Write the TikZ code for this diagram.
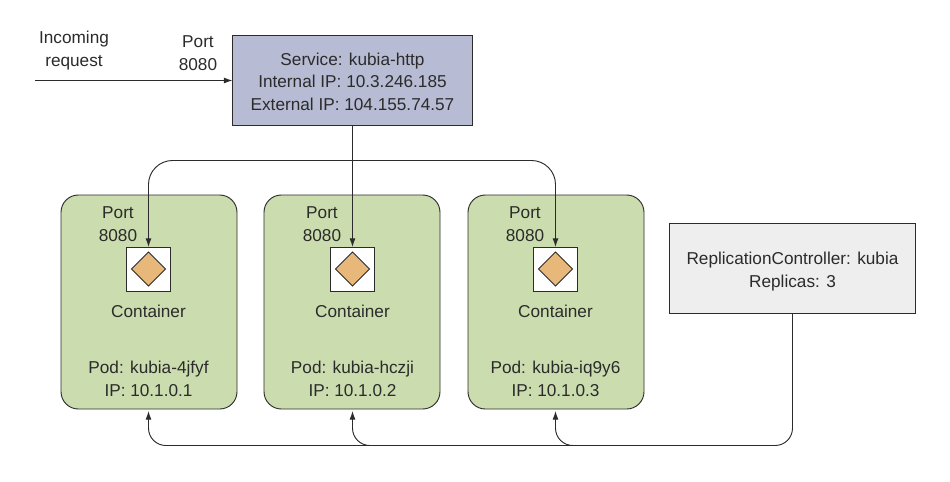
\documentclass[tikz,border=0pt]{standalone}
\usepackage{fontspec}
\setmainfont{Liberation Sans}
\usetikzlibrary{arrows.meta,shapes.geometric}
\definecolor{ink}{HTML}{2B2B2B}
\definecolor{svcfill}{HTML}{B7BCD4}
\definecolor{podfill}{HTML}{CBDDAE}
\definecolor{rcfill}{HTML}{EEEEEE}
\definecolor{diafill}{HTML}{E8B87B}
\newcommand{\boxlines}[2]{\vbox{\kern#1\hbox{\parbox{176pt}{\centering #2}}}}
\tikzset{
  txt/.style={inner sep=0pt,align=center,text=ink,font=\fontsize{12.9}{16.9}\selectfont},
  svcbox/.style={draw=ink,line width=0.65pt,fill=svcfill,minimum width=180pt,minimum height=67.5pt,inner sep=0pt,outer sep=0pt,text=ink,font=\fontsize{12.9}{16.9}\selectfont},
  rcbox/.style={svcbox,fill=rcfill,minimum width=184.5pt,minimum height=67.5pt},
  podbox/.style={draw=ink,line width=0.7pt,fill=podfill,rounded corners=13pt,minimum width=132pt,minimum height=160.5pt,inner sep=0pt,outer sep=0pt},
  ctrbox/.style={draw=ink,line width=0.65pt,fill=white,minimum width=33pt,minimum height=33pt,inner sep=0pt,outer sep=0pt},
  dia/.style={diamond,draw=ink,line width=0.65pt,fill=diafill,minimum width=25.5pt,minimum height=25.5pt,inner sep=0pt,outer sep=0pt,aspect=1},
  conn/.style={draw=ink,line width=0.7pt},
  tip/.style={-{Latex[length=6.5pt,width=4.5pt]}},
}
\begin{document}
\begin{tikzpicture}[x=0.75pt,y=-0.75pt]
\path[use as bounding box] (0,0) rectangle (950,482);
% boxes
\node[svcbox] (svc) at (352.5,80) {\boxlines{2.6pt}{Service: kubia-http\\Internal IP: 10.3.246.185\\External IP: 104.155.74.57}};
\node[rcbox] (rc) at (792.5,268) {\boxlines{5.2pt}{ReplicationController: kubia\\Replicas: 3}};
\foreach \n/\px/\cx/\pod/\ip in {1/149/148.5/kubia-4jfyf/10.1.0.1,2/352/352.5/kubia-hczji/10.1.0.2,3/556/555.5/kubia-iq9y6/10.1.0.3}{
  \node[podbox] (p\n) at (\px,302) {};
  \node[ctrbox] (c\n) at (\cx,269) {};
  \node[dia] (d\n) at (\cx,269) {};
  \node[txt] (pt\n) at (\cx-30.5,224) {Port\\8080};
  \node[txt] (cl\n) at (\cx,311.5) {Container};
  \node[txt] (pl\n) at (\cx,379) {Pod: \pod\\IP: \ip};
}
% free labels
\node[txt] (inc) at (74,50.5) {Incoming\\request};
\node[txt] (port) at (198,53) {Port\\8080};
\coordinate (src) at (35,80.5);
\coordinate (svcin) at (svc.west |- src);
\coordinate (split) at (svc.south |- 0,160.5);
\coordinate (busL) at (rc.south |- 0,445.5);
% connectors
\draw[conn,tip] (src) -- (svcin);
\draw[conn,tip] (svc.south) -- (c2.north);
\draw[conn,tip,rounded corners=18pt] (split) -| (c1.north);
\draw[conn,tip,rounded corners=18pt] (split) -| (c3.north);
\draw[conn,tip,rounded corners=13pt] (rc.south) |- (c1.south |- busL) -- (c1.south |- 0,411);
\draw[conn,tip,rounded corners=13pt] (c3.south |- busL) ++(13,0) -- (c3.south |- busL) -- (c3.south |- 0,411);
\draw[conn,tip,rounded corners=13pt] (c2.south |- busL) ++(13,0) -- (c2.south |- busL) -- (c2.south |- 0,411);
\end{tikzpicture}
\end{document}
